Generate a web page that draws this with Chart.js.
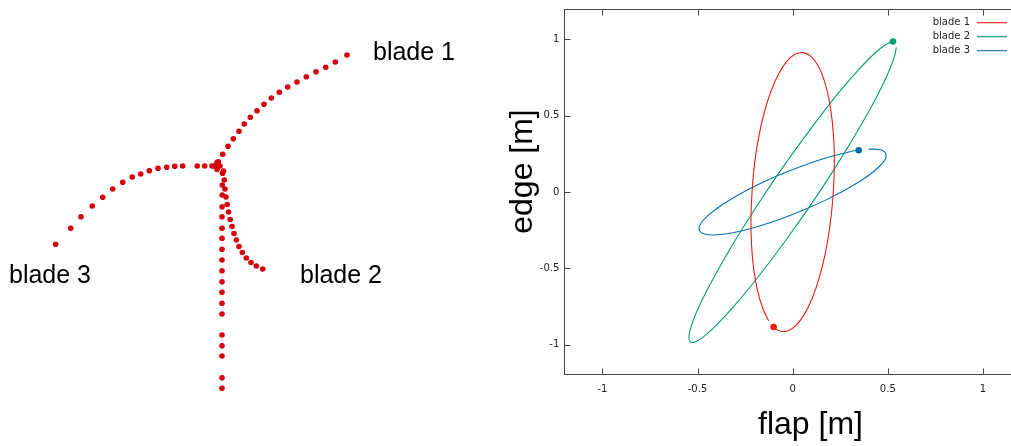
<!DOCTYPE html>
<html>
<head>
<meta charset="utf-8">
<script src="https://cdn.jsdelivr.net/npm/chart.js@4/dist/chart.umd.min.js"></script>
<style>
  html, body { margin: 0; padding: 0; background: #fff; overflow: hidden; width: 1011px; height: 446px; }
  #wrap { position: relative; width: 1011px; height: 446px; overflow: hidden; }
  #rotor { position: absolute; left: 0; top: 0; }
  #orbit { position: absolute; left: 500px; top: 0; }
</style>
</head>
<body>
<div id="wrap">
  <canvas id="rotor" width="480" height="446"></canvas>
  <canvas id="orbit" width="521" height="446"></canvas>
</div>
<script>
// ---------- Rotor snapshot: blade node positions, hub at (0,0), y up ----------
const blade1Nodes = [
  [130, 111], [118.3, 104], [108.7, 98.7], [99, 94.3], [89.3, 89.3], [80, 84],
  [70.7, 79], [62.3, 73.7], [54.3, 68], [47, 61.7], [40, 55.3], [33.3, 48.7],
  [27.3, 42], [22, 34.7], [16.3, 27.3], [11, 19.7], [5.7, 11.7], [1.3, 4.3]
];
const blade2Nodes = [
  [6.5, -5], [7.3, -14], [8, -23], [9, -31], [10.2, -38.5], [11.6, -46],
  [13.2, -53.5], [15, -60.5], [17, -67.5], [19.3, -74], [22, -80.5],
  [25.3, -86.5], [29.3, -92], [34, -96.5], [39.3, -100], [45.7, -103]
];
const blade3Nodes = [
  [-161.3, -78.3], [-146.3, -62.3], [-136, -50.7], [-124.7, -40], [-114.3, -31.3],
  [-104.3, -23], [-94.3, -16.3], [-84.7, -11], [-76.3, -8], [-67.7, -4.7],
  [-59, -2.3], [-50.3, -1.3], [-42.3, -0.3], [-34.3, 0], [-19.7, 0], [-12.3, 0], [-5, 0]
];
const hubNodes = [[0, 0], [-3, 0], [3, 0], [0, 3.5], [0, -3.5]];
const towerNodes = [
  [5.5, -7.3], [5.3, -19], [5.2, -29], [5.1, -40.7], [5, -50.7], [5, -62.3],
  [5, -72.3], [5, -83.3], [5, -94], [5, -104.7], [5, -115.7], [5, -126.3],
  [5, -137.3], [5, -148], [5, -169], [5, -179.7], [5, -190], [5, -211.7], [5, -222.3]
];
const bladeNames = ['blade 1', 'blade 2', 'blade 3'];

// ---------- Blade tip orbits in the rotor plane [flap, edge] in metres ----------
const blade1Orbit = [
  [-0.100, -0.885], [-0.067, -0.911], [-0.025, -0.910], [0.019, -0.873], [0.062, -0.801],
  [0.103, -0.697], [0.139, -0.565], [0.170, -0.411], [0.194, -0.241], [0.210, -0.061],
  [0.218, 0.122], [0.218, 0.299], [0.208, 0.465], [0.190, 0.613], [0.165, 0.735],
  [0.133, 0.829], [0.096, 0.889], [0.055, 0.914], [0.012, 0.903], [-0.032, 0.855],
  [-0.074, 0.774], [-0.114, 0.661], [-0.149, 0.523], [-0.178, 0.363], [-0.200, 0.189],
  [-0.213, 0.007], [-0.219, -0.175], [-0.216, -0.349], [-0.204, -0.510], [-0.184, -0.650],
  [-0.156, -0.766], [-0.126, -0.845]
];
const blade2Orbit = [
  [0.545, 0.949], [0.534, 0.884], [0.502, 0.780], [0.450, 0.644], [0.380, 0.483],
  [0.294, 0.302], [0.198, 0.109], [0.093, -0.088], [-0.016, -0.282], [-0.124, -0.464],
  [-0.227, -0.628], [-0.321, -0.767], [-0.402, -0.875], [-0.467, -0.948], [-0.514, -0.984],
  [-0.540, -0.980], [-0.544, -0.937], [-0.527, -0.857], [-0.489, -0.743], [-0.431, -0.600],
  [-0.356, -0.431], [-0.267, -0.246], [-0.167, -0.052], [-0.061, 0.145], [0.048, 0.335],
  [0.155, 0.514], [0.255, 0.671], [0.346, 0.801], [0.423, 0.900], [0.483, 0.962],
  [0.523, 0.987], [0.527, 0.987]
];
const blade3Orbit = [
  [0.400, 0.281], [0.453, 0.279], [0.482, 0.265], [0.492, 0.240], [0.482, 0.206],
  [0.453, 0.164], [0.406, 0.115], [0.343, 0.062], [0.266, 0.006], [0.178, -0.050],
  [0.084, -0.104], [-0.014, -0.154], [-0.112, -0.198], [-0.205, -0.234], [-0.290, -0.261],
  [-0.363, -0.277], [-0.422, -0.282], [-0.464, -0.276], [-0.487, -0.259], [-0.491, -0.231],
  [-0.476, -0.195], [-0.441, -0.150], [-0.389, -0.100], [-0.322, -0.046], [-0.241, 0.011],
  [-0.151, 0.067], [-0.055, 0.119], [0.043, 0.167], [0.140, 0.210], [0.230, 0.243],
  [0.312, 0.267], [0.347, 0.274]
];
// current tip positions
const blade1Now = [-0.100, -0.885];
const blade2Now = [0.527, 0.987];
const blade3Now = [0.347, 0.274];

const xTickValues = [-1, -0.5, 0, 0.5, 1];
const xTickLabels = ['-1', '-0.5', '0', '0.5', '1'];
const yTickValues = [-1, -0.5, 0, 0.5, 1];
const yTickLabels = ['-1', '-0.5', '0', '0.5', '1'];
const xTitle = 'flap [m]';
const yTitle = 'edge [m]';

const colors = ['#e51e10', '#009e73', '#0072b2'];
const nodeColor = 'rgb(214, 0, 12)';
const frameColor = '#444';
const textColor = '#1e1e1e';
const sans = '"Liberation Sans", Arial, sans-serif';
const small = '"DejaVu Sans", Verdana, sans-serif';

const toXY = arr => arr.map(([x, y]) => ({ x, y }));

// ---------- Left: rotor snapshot ----------
const softNodes = {
  id: 'softNodes',
  beforeDatasetsDraw(chart) { chart.ctx.save(); chart.ctx.filter = 'blur(0.7px)'; },
  afterDatasetsDraw(chart) { chart.ctx.restore(); },
  afterDraw(chart) {
    const ctx = chart.ctx;
    ctx.save();
    ctx.fillStyle = '#000';
    ctx.font = '25px ' + sans;
    ctx.textBaseline = 'alphabetic';
    ctx.textAlign = 'left';
    ctx.fillText(bladeNames[0], 373, 60);
    ctx.fillText(bladeNames[1], 300, 283);
    ctx.fillText(bladeNames[2], 9, 283);
    ctx.restore();
  }
};

new Chart(document.getElementById('rotor'), {
  type: 'scatter',
  data: {
    datasets: [blade1Nodes, blade2Nodes, blade3Nodes, hubNodes, towerNodes].map(d => ({
      data: toXY(d),
      pointRadius: 2.8,
      pointBackgroundColor: nodeColor,
      pointBorderWidth: 0,
      showLine: false
    }))
  },
  options: {
    responsive: false,
    animation: false,
    events: [],
    layout: { padding: 0, autoPadding: false },
    plugins: { legend: { display: false }, tooltip: { enabled: false } },
    scales: {
      x: { type: 'linear', display: false, min: -217, max: 263 },
      y: { type: 'linear', display: false, min: -280, max: 166 }
    }
  },
  plugins: [softNodes]
});

// ---------- Right: tip orbits ----------
const orbitDecor = {
  id: 'orbitDecor',
  afterDraw(chart) {
    const { ctx, chartArea: a, scales: { x, y } } = chart;
    ctx.save();
    ctx.strokeStyle = frameColor;
    ctx.lineWidth = 1;
    const L = Math.round(a.left) + 0.5, R = Math.round(a.right) - 0.5;
    const T = Math.round(a.top) + 0.5, B = Math.round(a.bottom) - 0.5;
    ctx.strokeRect(L, T, R - L, B - T);
    ctx.beginPath();
    xTickValues.forEach(v => {
      const p = Math.round(x.getPixelForValue(v)) + 0.5;
      ctx.moveTo(p, B); ctx.lineTo(p, B - 6);
      ctx.moveTo(p, T); ctx.lineTo(p, T + 6);
    });
    yTickValues.forEach(v => {
      const p = Math.round(y.getPixelForValue(v)) + 0.5;
      ctx.moveTo(L, p); ctx.lineTo(L + 6, p);
      ctx.moveTo(R, p); ctx.lineTo(R - 6, p);
    });
    ctx.stroke();

    // axis titles
    ctx.fillStyle = '#000';
    ctx.font = '32px ' + sans;
    ctx.textAlign = 'center';
    ctx.textBaseline = 'alphabetic';
    ctx.fillText(xTitle, 310.5, 434);
    ctx.save();
    ctx.translate(31.5, 171.5);
    ctx.rotate(-Math.PI / 2);
    ctx.fillText(yTitle, 0, 0);
    ctx.restore();

    // key
    ctx.font = '10px ' + small;
    ctx.textAlign = 'right';
    ctx.textBaseline = 'middle';
    ctx.lineWidth = 1.1;
    bladeNames.forEach((name, i) => {
      const ky = 22.7 + i * 14;
      ctx.fillStyle = textColor;
      ctx.fillText(name, 470, ky);
      ctx.strokeStyle = colors[i];
      ctx.beginPath();
      ctx.moveTo(477, ky); ctx.lineTo(507, ky);
      ctx.stroke();
    });
    ctx.restore();
  }
};

const orbitSet = (data, i) => ({
  label: bladeNames[i],
  data: toXY(data),
  showLine: true,
  borderColor: colors[i],
  borderWidth: 1.1,
  pointRadius: 0,
  tension: 0.4,
  fill: false
});
const nowSet = (pt, i) => ({
  data: [{ x: pt[0], y: pt[1] }],
  showLine: false,
  pointRadius: 3.3,
  pointBackgroundColor: colors[i],
  pointBorderWidth: 0
});

new Chart(document.getElementById('orbit'), {
  type: 'scatter',
  data: {
    datasets: [
      orbitSet(blade1Orbit, 0), orbitSet(blade2Orbit, 1), orbitSet(blade3Orbit, 2),
      nowSet(blade1Now, 0), nowSet(blade2Now, 1), nowSet(blade3Now, 2)
    ]
  },
  options: {
    responsive: false,
    animation: false,
    events: [],
    layout: { padding: { top: 9, left: 0, right: 0, bottom: 0 }, autoPadding: false },
    plugins: { legend: { display: false }, tooltip: { enabled: false } },
    scales: {
      x: {
        type: 'linear', min: -1.2, max: 1.2,
        afterBuildTicks: s => { s.ticks = xTickValues.map(v => ({ value: v })); },
        afterFit: s => { s.height = 71; s.paddingLeft = 0; s.paddingRight = 0; },
        ticks: {
          callback: (v, i) => xTickLabels[i],
          font: { family: small, size: 10 }, color: textColor,
          padding: 8, maxRotation: 0, autoSkip: false
        },
        grid: { display: false, drawTicks: false },
        border: { display: false }
      },
      y: {
        type: 'linear', min: -1.2, max: 1.2,
        afterBuildTicks: s => { s.ticks = yTickValues.map(v => ({ value: v })); },
        afterFit: s => { s.width = 64.3; s.paddingTop = 0; s.paddingBottom = 0; },
        ticks: {
          callback: (v, i) => yTickLabels[i],
          font: { family: small, size: 10 }, color: textColor,
          padding: 5, autoSkip: false
        },
        grid: { display: false, drawTicks: false },
        border: { display: false }
      }
    }
  },
  plugins: [orbitDecor]
});
</script>
</body>
</html>
